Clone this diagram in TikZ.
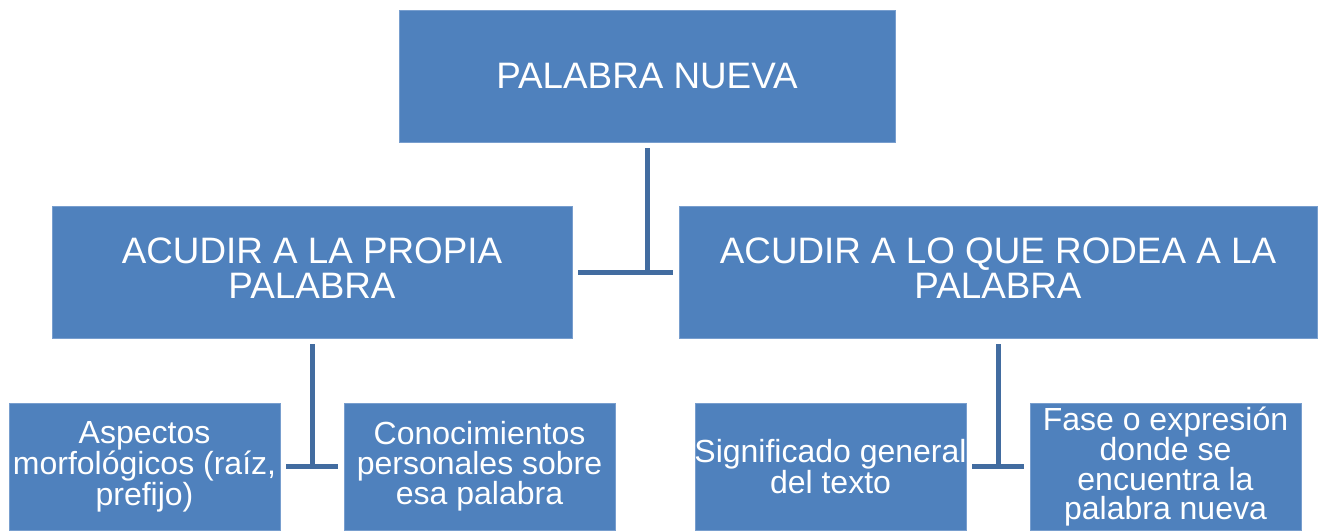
\documentclass[tikz,border=0pt]{standalone}
\usepackage{fontspec}
\setmainfont{Liberation Sans}
\definecolor{boxfill}{RGB}{79,129,189}
\definecolor{boxedge}{RGB}{120,158,206}
\definecolor{conncol}{RGB}{66,108,160}
\tikzset{
  box/.style={rectangle, fill=boxfill, draw=boxedge, line width=0.8pt, text=white, align=center, inner sep=2pt},
  bigfont/.style={font=\fontsize{36.8}{35}\selectfont},
  bigbox/.style={box, bigfont},
  midtext/.style={bigfont, text=white, align=center},
  smallbox/.style={box, font=\fontsize{32}{29.5}\selectfont, minimum width=271pt, minimum height=127pt},
  conn/.style={draw=conncol, line width=5pt}
}
\begin{document}
\begin{tikzpicture}[x=1pt,y=-1pt]
\useasboundingbox (0,0) rectangle (1322,531);
\node[bigbox, minimum width=496pt, minimum height=132pt] (top) at (647,76) {PALABRA NUEVA};
\node[bigbox, minimum width=520pt, minimum height=132pt] (lmid) at (312,272) {};
\node[midtext] (ltxt) at (312,268) {ACUDIR A LA PROPIA\\PALABRA};
\node[bigbox, minimum width=638pt, minimum height=132pt] (rmid) at (998,272) {};
\node[midtext] (rtxt) at (998,268) {ACUDIR A LO QUE RODEA A LA\\PALABRA};
\node[smallbox] (b1) at (144.5,466.5) {Aspectos\\morfológicos (raíz,\\prefijo)};
\node[smallbox] (b2) at (479.5,466.5) {Conocimientos\\personales sobre\\esa palabra};
\node[smallbox] (b3) at (830.5,466.5) {\makebox[0pt]{Significado general}\\\makebox[0pt]{del texto}};
\node[smallbox] (b4) at (1165.5,466.5) {Fase o expresión\\donde se\\encuentra la\\palabra nueva};
\draw[conn, shorten <=6pt] (top.south) -- (top.south |- lmid.east);
\draw[conn, shorten <=6pt, shorten >=6pt] (lmid.east) -- (rmid.west);
\draw[conn, shorten <=6pt] (lmid.south) -- (lmid.south |- b1.east);
\draw[conn, shorten <=6pt, shorten >=6pt] (b1.east) -- (b2.west);
\draw[conn, shorten <=6pt] (rmid.south) -- (rmid.south |- b3.east);
\draw[conn, shorten <=6pt, shorten >=6pt] (b3.east) -- (b4.west);
\end{tikzpicture}
\end{document}
